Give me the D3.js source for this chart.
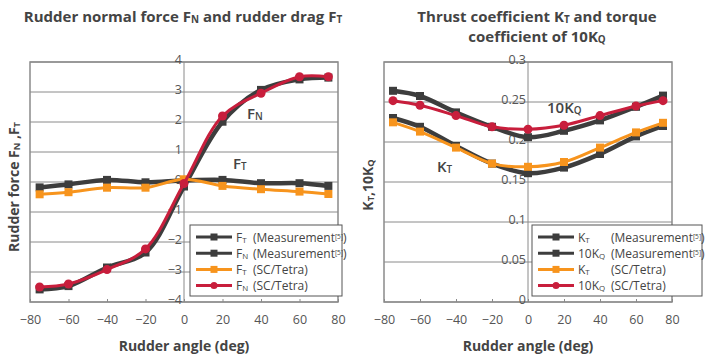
<!DOCTYPE html>
<html>
<head>
<meta charset="utf-8">
<script src="https://cdn.jsdelivr.net/npm/d3@7"></script>
<style>
  body { margin: 0; background: #fff; }
  svg { font-family: "Open Sans", "Noto Sans", sans-serif; }
</style>
</head>
<body>
<div id="chart"></div>
<script>
// rudder angles (deg), shared by both panels
var angles = [-75, -60, -40, -20, 0, 20, 40, 60, 75];

// left panel: rudder forces
var ftMeas = [-0.18, -0.08, 0.07, -0.01, 0.05, 0.07, -0.04, -0.04, -0.13];
var fnMeas = [-3.58, -3.47, -2.85, -2.35, -0.15, 2.01, 3.07, 3.42, 3.48];
var ftSC   = [-0.41, -0.34, -0.19, -0.19, 0.09, -0.13, -0.24, -0.32, -0.40];
var fnSC   = [-3.50, -3.40, -2.92, -2.23, -0.05, 2.20, 2.96, 3.51, 3.51];

// right panel: thrust / torque coefficients
var ktMeas = [0.230, 0.219, 0.195, 0.173, 0.161, 0.168, 0.185, 0.207, 0.220];
var kqMeas = [0.264, 0.2575, 0.237, 0.219, 0.206, 0.214, 0.227, 0.244, 0.258];
var ktSC   = [0.2246, 0.213, 0.193, 0.173, 0.169, 0.175, 0.193, 0.212, 0.224];
var kqSC   = [0.2517, 0.246, 0.233, 0.219, 0.216, 0.221, 0.233, 0.245, 0.2517];

var xTicks = [-80, -60, -40, -20, 0, 20, 40, 60, 80];
var forceTicks = [-4, -3, -2, -1, 0, 1, 2, 3, 4];
var coefTicks = [0, 0.05, 0.1, 0.15, 0.2, 0.25, 0.3];

var DARK = "#3d3d3d", ORANGE = "#f7941d", RED = "#c81e3c", TXT = "#444", GRID = "#8a8a8a";

var svg = d3.select("#chart").append("svg")
    .attr("width", 709)
    .attr("height", 356);

// text with subscripts/superscripts: parts = [[text, "sub"|"sup"|null], ...]
function richText(sel, parts, size) {
    parts.forEach(function (p) {
        var t = sel.append("tspan").text(p[0]);
        if (p[1] == "sub") t.attr("font-size", size * 0.66).attr("baseline-shift", "-12%");
        else if (p[1] == "sup") t.attr("font-size", size * 0.55).attr("baseline-shift", "45%");
    });
    return sel;
}

function panel(cfg) {
    var g = svg.append("g");
    var x = d3.scaleLinear().domain([-80, 80]).range([cfg.left, cfg.right]);
    var y = d3.scaleLinear().domain(cfg.yDomain).range([cfg.bottom, cfg.top]);

    // horizontal grid
    g.selectAll(".grid").data(cfg.yTicks).enter().append("line")
        .attr("x1", cfg.left).attr("x2", cfg.right)
        .attr("y1", function (d) { return y(d); }).attr("y2", function (d) { return y(d); })
        .attr("stroke", GRID).attr("stroke-width", 1);
    // zero line
    g.append("line").attr("x1", x(0)).attr("x2", x(0)).attr("y1", cfg.top).attr("y2", cfg.bottom)
        .attr("stroke", GRID);
    // frame
    g.append("rect").attr("x", cfg.left).attr("y", cfg.top)
        .attr("width", cfg.right - cfg.left).attr("height", cfg.bottom - cfg.top)
        .attr("fill", "none").attr("stroke", GRID).attr("stroke-width", 1.5);

    // y labels next to the zero line
    g.selectAll(".ylab").data(cfg.yTicks).enter().append("text")
        .attr("x", x(0) - 2).attr("y", function (d) { return y(d) + 2; })
        .attr("text-anchor", "end").attr("font-size", 12.5).attr("fill", "#555")
        .text(cfg.yFormat);

    // x axis
    var ax = g.append("g").attr("transform", "translate(0," + cfg.bottom + ")")
        .call(d3.axisBottom(x).tickValues(xTicks).tickSize(-3).tickPadding(13).tickFormat(d3.format("d")));
    ax.select(".domain").remove();
    ax.selectAll("line").attr("stroke", GRID);
    ax.selectAll("text").attr("font-size", 12.5).attr("fill", "#555").attr("font-family", "Open Sans");

    g.append("text").attr("x", x(0)).attr("y", 351).attr("text-anchor", "middle")
        .attr("font-size", 14).attr("font-weight", "bold").attr("fill", TXT).text("Rudder angle (deg)");

    var line = d3.line().x(function (d) { return x(d[0]); }).y(function (d) { return y(d[1]); })
        .curve(d3.curveCatmullRom.alpha(0.5));

    cfg.series.forEach(function (s) {
        var pts = angles.map(function (a, i) { return [a, s.values[i]]; });
        g.append("path").datum(pts).attr("d", line).attr("fill", "none")
            .attr("stroke", s.color).attr("stroke-width", s.width);
        if (s.marker == "circle") {
            g.selectAll(null).data(pts).enter().append("circle")
                .attr("cx", function (d) { return x(d[0]); }).attr("cy", function (d) { return y(d[1]); })
                .attr("r", 4.5).attr("fill", s.color);
        } else {
            g.selectAll(null).data(pts).enter().append("rect")
                .attr("x", function (d) { return x(d[0]) - 4; }).attr("y", function (d) { return y(d[1]) - 4; })
                .attr("width", 8).attr("height", 8).attr("fill", s.color);
        }
    });

    // legend
    var lg = g.append("g");
    lg.append("rect").attr("x", cfg.legX).attr("y", 225).attr("width", cfg.legW).attr("height", 71)
        .attr("fill", "#fff").attr("stroke", "#555").attr("stroke-width", 1);
    cfg.series.forEach(function (s, i) {
        var ly = 237 + i * 16.2;
        lg.append("line").attr("x1", cfg.legX + 6).attr("x2", cfg.legX + 42).attr("y1", ly).attr("y2", ly)
            .attr("stroke", s.color).attr("stroke-width", 3);
        if (s.marker == "circle")
            lg.append("circle").attr("cx", cfg.legX + 24).attr("cy", ly).attr("r", 3.5).attr("fill", s.color);
        else
            lg.append("rect").attr("x", cfg.legX + 20.5).attr("y", ly - 3.5).attr("width", 7).attr("height", 7).attr("fill", s.color);
        var t = lg.append("text").attr("x", cfg.legX + 46).attr("y", ly + 4.5)
            .attr("font-size", 12).attr("fill", TXT);
        richText(t, s.label, 12);
        var t2 = lg.append("text").attr("x", cfg.legX + cfg.noteX).attr("y", ly + 4.5)
            .attr("font-size", 12).attr("fill", TXT);
        richText(t2, s.note, 12);
    });

    // curve annotations
    cfg.notes.forEach(function (n) {
        var t = g.append("text").attr("x", n.x).attr("y", n.y).attr("font-size", 15)
            .attr("font-weight", "600").attr("fill", TXT);
        richText(t, n.parts, 15);
    });

    // titles
    cfg.title.forEach(function (ln, i) {
        var t = g.append("text").attr("x", cfg.titleX).attr("y", 22 + i * 20).attr("text-anchor", "middle")
            .attr("font-size", 15).attr("font-weight", "bold").attr("fill", TXT);
        richText(t, ln, 15);
    });
    var yt = g.append("text").attr("transform", "translate(" + cfg.yTitleX + "," + cfg.yTitleY + ") rotate(-90)")
        .attr("text-anchor", "middle").attr("font-size", 14).attr("font-weight", "bold").attr("fill", TXT);
    richText(yt, cfg.yTitle, 14);
}

var meas = [["(Measurement", null], ["[5]", "sup"], [")", null]];
var sc = [["(SC/Tetra)", null]];

panel({
    left: 30, right: 338, top: 62, bottom: 302,
    yDomain: [-4, 4], yTicks: forceTicks, yFormat: d3.format("d"),
    legX: 190, legW: 152, noteX: 63,
    series: [
        { values: ftMeas, color: DARK, width: 4.5, marker: "square", label: [["F", null], ["T", "sub"]], note: meas },
        { values: fnMeas, color: DARK, width: 4.5, marker: "square", label: [["F", null], ["N", "sub"]], note: meas },
        { values: ftSC, color: ORANGE, width: 3, marker: "square", label: [["F", null], ["T", "sub"]], note: sc },
        { values: fnSC, color: RED, width: 3, marker: "circle", label: [["F", null], ["N", "sub"]], note: sc }
    ],
    notes: [
        { x: 247, y: 119, parts: [["F", null], ["N", "sub"]] },
        { x: 233, y: 169, parts: [["F", null], ["T", "sub"]] }
    ],
    titleX: 183,
    title: [[["Rudder normal force F", null], ["N", "sub"], [" and rudder drag F", null], ["T", "sub"]]],
    yTitleX: 19, yTitleY: 187,
    yTitle: [["Rudder force F", null], ["N", "sub"], [" ,F", null], ["T", "sub"]]
});

panel({
    left: 384, right: 672, top: 62, bottom: 302,
    yDomain: [0, 0.3], yTicks: coefTicks, yFormat: function (d) { return d3.format("~g")(d); },
    legX: 532, legW: 170, noteX: 79,
    series: [
        { values: ktMeas, color: DARK, width: 4.5, marker: "square", label: [["K", null], ["T", "sub"]], note: meas },
        { values: kqMeas, color: DARK, width: 4.5, marker: "square", label: [["10K", null], ["Q", "sub"]], note: meas },
        { values: ktSC, color: ORANGE, width: 3, marker: "square", label: [["K", null], ["T", "sub"]], note: sc },
        { values: kqSC, color: RED, width: 3, marker: "circle", label: [["10K", null], ["Q", "sub"]], note: sc }
    ],
    notes: [
        { x: 547, y: 113, parts: [["10K", null], ["Q", "sub"]] },
        { x: 437, y: 172, parts: [["K", null], ["T", "sub"]] }
    ],
    titleX: 537,
    title: [[["Thrust coefficient K", null], ["T", "sub"], [" and torque", null]],
            [["coefficient of 10K", null], ["Q", "sub"]]],
    yTitleX: 373, yTitleY: 185,
    yTitle: [["K", null], ["T", "sub"], [",10K", null], ["Q", "sub"]]
});
</script>
</body>
</html>
